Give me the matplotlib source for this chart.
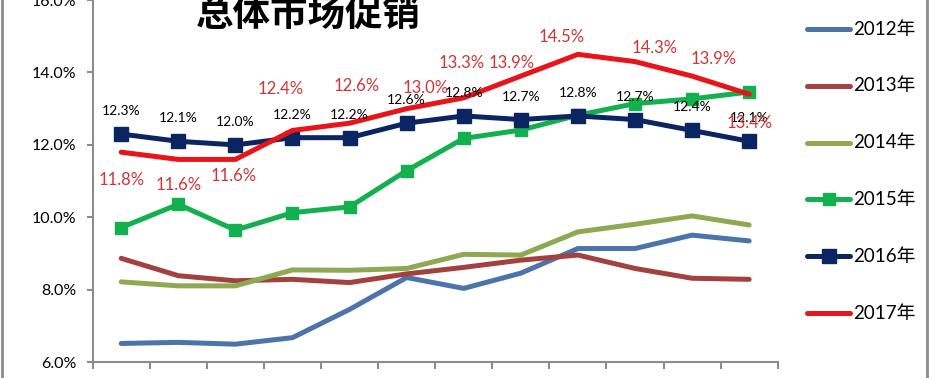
import numpy as np
import matplotlib
matplotlib.use('Agg')
import matplotlib.pyplot as plt
from matplotlib.lines import Line2D

plt.rcParams['font.family'] = ['Lato', 'Noto Sans CJK SC', 'DejaVu Sans']

# data (percent), 12 months
years = ['2012年', '2013年', '2014年', '2015年', '2016年', '2017年']
v2012 = [6.52, 6.55, 6.50, 6.68, 7.46, 8.34, 8.04, 8.46, 9.14, 9.14, 9.51, 9.35]
v2013 = [8.87, 8.39, 8.25, 8.29, 8.20, 8.44, 8.62, 8.82, 8.96, 8.59, 8.32, 8.29]
v2014 = [8.22, 8.11, 8.11, 8.55, 8.54, 8.59, 8.98, 8.96, 9.60, 9.81, 10.04, 9.79]
v2015 = [9.72, 10.36, 9.65, 10.13, 10.29, 11.29, 12.18, 12.41, 12.82, 13.14, 13.27, 13.46]
v2016 = [12.3, 12.1, 12.0, 12.2, 12.2, 12.6, 12.8, 12.7, 12.8, 12.7, 12.4, 12.1]
v2017 = [11.8, 11.6, 11.6, 12.4, 12.6, 13.0, 13.3, 13.9, 14.5, 14.3, 13.9, 13.4]

# offsets (pixels) of the hand-placed 2017 labels
off2017 = [(0, -28), (0, -26), (-2, -17), (-12, 41), (7, 37), (19, 21),
           (-2, 35), (-9, 13), (-16, 17), (20, 14), (22, 17), (0, -29)]

colors = ['#4a74aa', '#a3413e', '#8fa852', '#12b04e', '#0b2462', '#e8141a']
markers = [None, None, None, 's', 's', None]
series = [v2012, v2013, v2014, v2015, v2016, v2017]

W, H = 930, 378
fig = plt.figure(figsize=(W / 100, H / 100), dpi=100)
ax = fig.add_axes([92.7 / W, 15.7 / H, 685 / W, 362.3 / H])

x = np.arange(12) + 0.5
for vals, c, m in zip(series, colors, markers):
    if m == 's':
        ms = 10 if c == '#0b2462' else 8
        ax.plot(x, vals, color=c, lw=3.6, marker='s', ms=ms, solid_capstyle='round')
    else:
        ax.plot(x, vals, color=c, lw=3.6, solid_capstyle='round')

for xi, v in zip(x, v2016):
    ax.annotate('%.1f%%' % v, (xi, v), xytext=(0, 23), textcoords='offset pixels',
                ha='center', va='center', fontsize=10, color='black')
for xi, v, (dx, dy) in zip(x, v2017, off2017):
    ax.annotate('%.1f%%' % v, (xi, v), xytext=(dx, dy), textcoords='offset pixels',
                ha='center', va='center', fontsize=12, color='#d03535')

ax.set_xlim(0, 12)
ax.set_ylim(6, 16)
ax.set_xticks(np.arange(13))
ax.set_xticklabels([])
ax.set_yticks(np.arange(6, 17, 2))
ax.set_yticklabels(['%.1f%%' % t for t in np.arange(6, 17, 2)], fontsize=11.5)
for s in ['top', 'right']:
    ax.spines[s].set_visible(False)
for s in ['left', 'bottom']:
    ax.spines[s].set_color('#8c8c8c')
    ax.spines[s].set_linewidth(1.5)
ax.tick_params(axis='y', length=4, width=1.5, color='#8c8c8c', pad=8)
ax.tick_params(axis='x', length=5, width=1.5, color='#8c8c8c')

fig.text(308 / W, 1 - 14.5 / H, '总体市场促销', fontsize=27, fontweight='bold',
         family=['Noto Sans CJK SC'], ha='center', va='center')

# legend
for i, (name, c, m) in enumerate(zip(years, colors, markers)):
    yy = 1 - (29 + i * 56.8) / H
    fig.add_artist(Line2D([807 / W, 850 / W], [yy, yy], color=c, lw=3.6,
                          solid_capstyle='round', transform=fig.transFigure))
    if m == 's':
        fig.add_artist(Line2D([828.5 / W], [yy], color=c, marker='s',
                              ms=10 if i == 4 else 8, transform=fig.transFigure))
    fig.text(853 / W, yy, name, fontsize=13.5, ha='left', va='center')

# frame edges
for xe in [1.5, 926.5]:
    fig.add_artist(Line2D([xe / W, xe / W], [0, 1], color='#8c8c8c', lw=2,
                          transform=fig.transFigure))

fig.savefig('out.png', dpi=100)
